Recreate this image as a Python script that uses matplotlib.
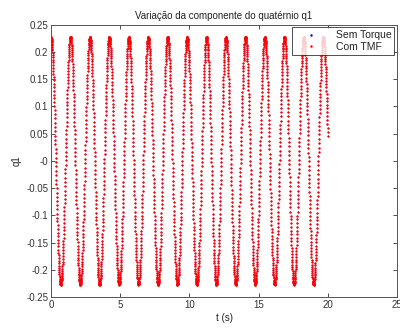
import numpy as np
import matplotlib
matplotlib.use('Agg')
import matplotlib.pyplot as plt
from matplotlib.ticker import FuncFormatter

plt.rcParams['font.family'] = ['Liberation Sans', 'DejaVu Sans']

# extremos (tempo em s, valor de q1)
peak_t = [0.0, 1.41, 2.81, 4.21, 5.62, 7.02, 8.43, 9.83, 11.24, 12.64,
          14.05, 15.45, 16.86, 18.26, 19.67]
trough_t = [0.70, 2.11, 3.51, 4.92, 6.32, 7.73, 9.13, 10.54, 11.94, 13.35,
            14.75, 16.16, 17.56, 18.97, 20.43]
peak_q = 0.227
trough_q = -0.227
t_end = 20.0
dt = 0.008

labels = ['Sem Torque', 'Com TMF']
colors = ['b', 'r']

# monta a serie amostrada entre extremos consecutivos
ext_t = np.empty(len(peak_t) + len(trough_t))
ext_t[0::2] = peak_t
ext_t[1::2] = trough_t
ext_q = np.empty_like(ext_t)
ext_q[0::2] = peak_q
ext_q[1::2] = trough_q

t = np.arange(0, t_end + dt / 2, dt)
idx = np.clip(np.searchsorted(ext_t, t, side='right') - 1, 0, len(ext_t) - 2)
t0, t1 = ext_t[idx], ext_t[idx + 1]
q0, q1v = ext_q[idx], ext_q[idx + 1]
frac = (t - t0) / (t1 - t0)
q1 = (q0 + q1v) / 2 + (q0 - q1v) / 2 * np.cos(np.pi * frac)

fig = plt.figure(figsize=(4.0, 3.29), dpi=100)
ax = fig.add_axes([0.1275, 0.097, 0.865, 0.828])

# sem torque fica por baixo da curva com TMF
ax.plot(t, q1, '.', color=colors[0], markersize=2.2, mew=0, label=labels[0])
ax.plot(t, q1, '.', color=colors[1], markersize=3.4, mew=0, label=labels[1])

ax.set_xlim(0, 25)
ax.set_ylim(-0.25, 0.25)
ax.set_xticks(np.arange(0, 26, 5))
ax.set_yticks(np.arange(-0.25, 0.2501, 0.05))
ax.yaxis.set_major_formatter(FuncFormatter(lambda v, p: '%g' % round(v, 2)))
ax.tick_params(direction='in', length=3, width=0.6, labelsize=7,
               top=True, right=True, colors='#333333', pad=2)
for s in ax.spines.values():
    s.set_linewidth(0.7)
    s.set_color('#555555')

ax.set_title('Variação da componente do quatérnio q1', fontsize=7,
             color='#222222', pad=4)
ax.set_xlabel('t (s)', fontsize=7, color='#222222', labelpad=2)
ax.set_ylabel('q1', fontsize=7, color='#222222', labelpad=3)

handles, _ = ax.get_legend_handles_labels()
leg = ax.legend(handles, labels, loc='upper right', fontsize=7.5, frameon=True,
                fancybox=False, edgecolor='black', borderaxespad=0.25,
                handletextpad=0.9, handlelength=3.0, borderpad=0.3,
                labelspacing=0.15)
for h in leg.legend_handles:
    h.set_markersize(3.5)
for txt in leg.get_texts():
    txt.set_color('#222222')
leg.get_frame().set_linewidth(0.6)

fig.savefig('out.png', dpi=100)
